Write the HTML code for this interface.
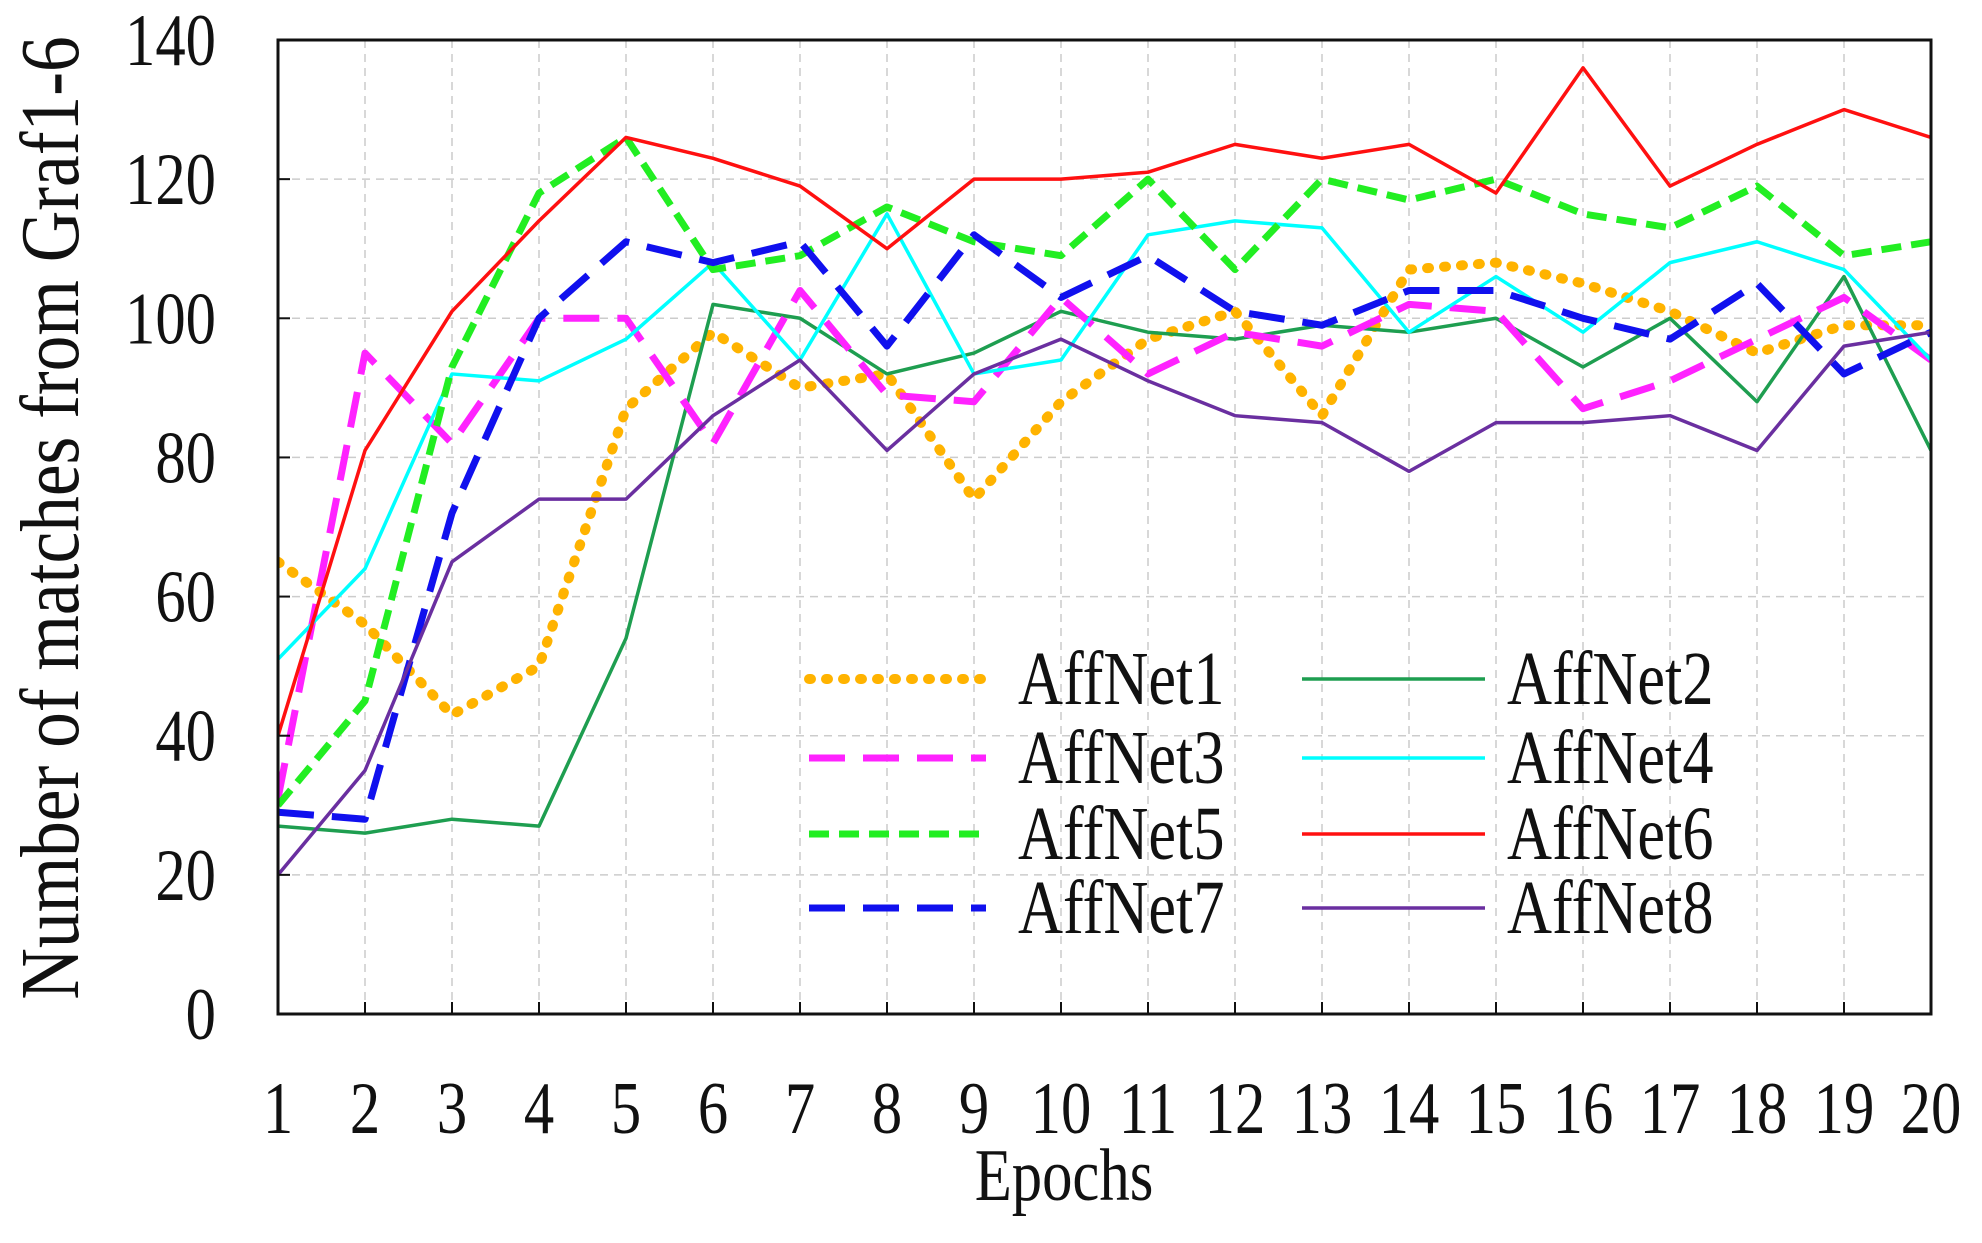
<!DOCTYPE html>
<html><head><meta charset="utf-8"><style>
html,body{margin:0;padding:0;background:#fff;}
svg text{font-family:"Liberation Serif",serif;fill:#111;}
</style></head><body>
<svg id="c" width="1982" height="1238" xmlns="http://www.w3.org/2000/svg"></svg>
<script>
const L=278,R=1931,T=40,B=1014;
const X=i=>L+(i-1)*(R-L)/19, Y=v=>B-v*(B-T)/140;
const tx=(x,y,t,anchor,fs)=>`<text transform="translate(${x},${y}) scale(0.82,1)" font-size="${fs||74}" text-anchor="${anchor}">${t}</text>`;
let s='';
for(let i=2;i<=19;i++) s+=`<line x1="${X(i)}" y1="${T}" x2="${X(i)}" y2="${B}" stroke="#ccc" stroke-width="1.5" stroke-dasharray="8,6"/>`;
for(let v=20;v<=120;v+=20) s+=`<line x1="${L}" y1="${Y(v)}" x2="${R}" y2="${Y(v)}" stroke="#ccc" stroke-width="1.5" stroke-dasharray="8,6"/>`;
const D=[
["#FFB300","2,15",10,"round",[65,56,43,50,87,98,90,92,74,88,97,101,86,107,108,105,101,95,99,99]],
["#1E9E50","",3.5,"butt",[27,26,28,27,54,102,100,92,95,101,98,97,99,98,100,93,100,88,106,81]],
["#FF22FF","36,18",7,"butt",[31,95,82,100,100,82,104,89,88,103,92,98,96,102,101,87,91,97,103,94]],
["#00FFFF","",3.5,"butt",[51,64,92,91,97,108,94,115,92,94,112,114,113,98,106,98,108,111,107,94]],
["#22EE22","20,10",7,"butt",[30,45,93,118,126,107,109,116,111,109,120,107,120,117,120,115,113,119,109,111]],
["#FF1010","",3.5,"butt",[40,81,101,114,126,123,119,110,120,120,121,125,123,125,118,136,119,125,130,126]],
["#1010EE","36,18",7,"butt",[29,28,72,100,111,108,111,96,112,103,109,101,99,104,104,100,97,105,92,98]],
["#6A2FA0","",3.5,"butt",[20,35,65,74,74,86,94,81,92,97,91,86,85,78,85,85,86,81,96,98]]];
s+=`<clipPath id="cp"><rect x="${L}" y="${T}" width="${R-L}" height="${B-T}"/></clipPath><g clip-path="url(#cp)">`;
D.forEach(d=>{s+=`<polyline fill="none" stroke="${d[0]}" stroke-width="${d[2]}" stroke-linecap="${d[3]}" stroke-linejoin="round" stroke-dasharray="${d[1]}" points="${d[4].map((v,i)=>X(i+1)+','+Y(v)).join(' ')}"/>`;});
s+='</g>';
const rows=[679,758,834,908];
D.forEach((d,k)=>{const col=k%2,r=rows[k>>1];const x1=col?1302:809,x2=col?1485:986,t=col?1507:1018;
s+=`<line x1="${x1}" y1="${r}" x2="${x2}" y2="${r}" stroke="${d[0]}" stroke-width="${d[2]}" stroke-linecap="${d[3]}" stroke-dasharray="${d[1]}"/>`;
s+=tx(t,r+25,`AffNet${k+1}`,"start",76);});
s+=`<rect x="${L}" y="${T}" width="${R-L}" height="${B-T}" fill="none" stroke="#111" stroke-width="3"/>`;
for(let i=1;i<=20;i++){s+=`<line x1="${X(i)}" y1="${B}" x2="${X(i)}" y2="${B-12}" stroke="#111" stroke-width="2"/>`;
s+=tx(X(i),1133,i,"middle");}
for(let v=0;v<=140;v+=20){s+=`<line x1="${L}" y1="${Y(v)}" x2="${L+12}" y2="${Y(v)}" stroke="#111" stroke-width="2"/>`;
s+=tx(216,Y(v)+25,v,"end");}
s+=tx(1064,1200,"Epochs","middle");
s+=`<text transform="translate(78,518) rotate(-90) scale(0.85,1)" font-size="84" text-anchor="middle">Number of matches from Graf1-6</text>`;
document.getElementById('c').innerHTML=s;
</script>
</body></html>
